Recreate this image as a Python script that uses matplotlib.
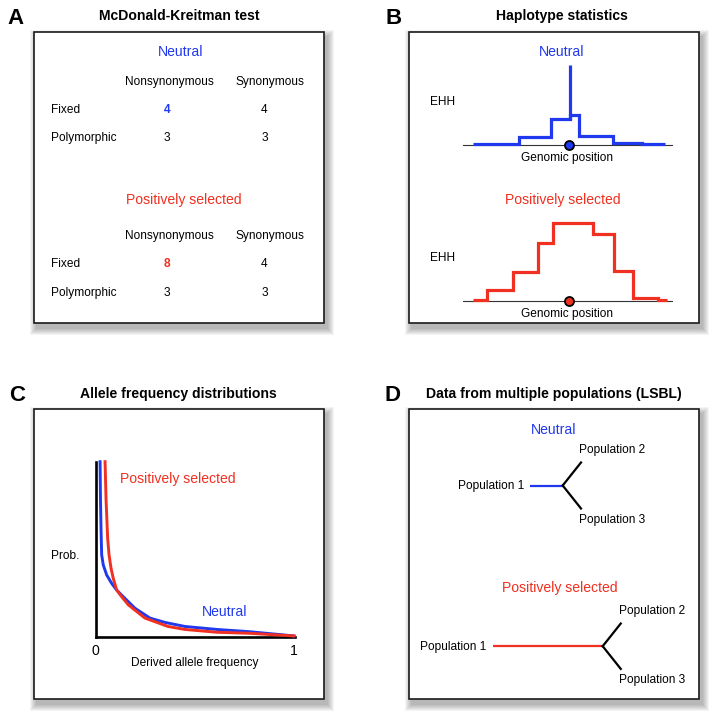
import numpy as np
import matplotlib
matplotlib.use("Agg")
import matplotlib.pyplot as plt
from matplotlib.patches import Rectangle

plt.rcParams['font.family'] = ['Liberation Sans', 'DejaVu Sans']

BLUE = "#2038ee"
RED = "#f03020"
W, H = 714, 717

# A: McDonald-Kreitman table
mk_cols = ["Nonsynonymous", "Synonymous"]
mk_rows = ["Fixed", "Polymorphic"]
mk_neutral = [[4, 4], [3, 3]]
mk_selected = [[8, 4], [3, 3]]

# B: EHH step profiles, position (kb) around the core site
ehh_neutral_edges = [-9.6, -5.0, -1.8, 0.1, 1.0, 4.4, 7.3, 9.6]
ehh_neutral = [0.01, 0.10, 0.33, 0.375, 0.11, 0.02, 0.01]
ehh_neutral_peak = 1.0
ehh_sel_edges = [-9.6, -8.2, -5.6, -3.1, -1.6, 2.4, 4.5, 6.4, 8.9, 9.8]
ehh_sel = [0.01, 0.134, 0.36, 0.72, 0.975, 0.84, 0.37, 0.03, 0.01]

# C: allele frequency spectra
sfs_neutral_x = [0.022, 0.024, 0.027, 0.030, 0.038, 0.055, 0.080, 0.105, 0.138,
                 0.197, 0.272, 0.348, 0.448, 0.609, 0.774, 0.995]
sfs_neutral_y = [1.0, 0.782, 0.600, 0.468, 0.411, 0.354, 0.306, 0.268, 0.230,
                 0.164, 0.108, 0.083, 0.060, 0.043, 0.030, 0.006]
sfs_sel_x = [0.047, 0.052, 0.060, 0.067, 0.077, 0.088, 0.105, 0.130, 0.164,
             0.247, 0.363, 0.448, 0.609, 0.774, 0.995]
sfs_sel_y = [1.0, 0.782, 0.563, 0.468, 0.392, 0.335, 0.268, 0.230, 0.183,
             0.108, 0.060, 0.043, 0.027, 0.021, 0.006]

# D: LSBL branch lengths (pop1, pop2, pop3)
lsbl_pops = ["Population 1", "Population 2", "Population 3"]
lsbl_neutral = [32.4, 29.4, 29.4]
lsbl_selected = [109.7, 29.0, 29.0]

fig = plt.figure(figsize=(W / 100, H / 100), dpi=100)
bg = fig.add_axes([0, 0, 1, 1])
bg.set_xlim(0, W)
bg.set_ylim(H, 0)
bg.axis('off')


def txt(x, y, s, size=8.6, ha='center', color='black', weight='normal'):
    # y is the middle of the capitals
    bg.text(x, y + 0.358 * size * 100 / 72, s, ha=ha, va='baseline',
            fontsize=size, color=color, fontweight=weight)


def box(x0, y0, x1, y1):
    for k in range(1, 8):
        bg.add_patch(Rectangle((x0 + 3 - k, y0 + 5 - k), (x1 - x0) + 2 * k, (y1 - y0) + 2 * k,
                               facecolor='black', alpha=0.045, edgecolor='none'))
    bg.add_patch(Rectangle((x0, y0), x1 - x0, y1 - y0, facecolor='white',
                           edgecolor='#1a1a1a', lw=1.2))


def px_axes(x0, y0, x1, y1):
    ax = fig.add_axes([x0 / W, 1 - y1 / H, (x1 - x0) / W, (y1 - y0) / H])
    ax.set_facecolor('none')
    return ax


box(34, 32.3, 324.3, 322.7)
box(408.7, 32.3, 699.3, 322.7)
box(34, 409.3, 324.3, 699)
box(408.7, 409.3, 699.3, 699)

# letters and titles
for lx, ly, letter in [(15.7, 16, "A"), (393.8, 16.5, "B"), (17.5, 393, "C"), (392, 393, "D")]:
    txt(lx, ly, letter, size=16, weight='bold')
txt(179.2, 15.3, "McDonald-Kreitman test", size=10.1, weight='bold')
txt(561.5, 15.3, "Haplotype statistics", size=10.1, weight='bold')
txt(178.8, 392.5, "Allele frequency distributions", size=10.1, weight='bold')
txt(554.2, 392.5, "Data from multiple populations (LSBL)", size=10.1, weight='bold')

# ---- A ----
for top, label, color, counts in [(50.8, "Neutral", BLUE, mk_neutral),
                                  (198.8, "Positively selected", RED, mk_selected)]:
    txt(181 if label == "Neutral" else 183.8, top, label, size=10.1, color=color)
    hy = top + 29.7 if label == "Neutral" else top + 36.2
    txt(169.2, hy, mk_cols[0])
    txt(269.7, hy, mk_cols[1])
    for i, row in enumerate(mk_rows):
        ry = hy + 28.2 + i * 28.3
        txt(50.8, ry, row, ha='left')
        for j, v in enumerate(counts[i]):
            hl = (i == 0 and j == 0)
            txt([167.2, 264.5][j], ry, str(v), color=color if hl else 'black',
                weight='bold' if hl else 'normal')

# ---- B ----
for base, lbl, color, edges, vals in [(145, "Neutral", BLUE, ehh_neutral_edges, ehh_neutral),
                                      (300.7, "Positively selected", RED, ehh_sel_edges, ehh_sel)]:
    ax = px_axes(463, base - 86, 673, base + 6)
    ax.set_xlim(-10.6, 10.4)
    ax.set_ylim(-6 / 80, 86 / 80)
    ax.axis('off')
    ax.axhline(0, color='#333333', lw=0.8, zorder=1)
    ax.stairs(vals, edges, baseline=None, color=color, lw=2.3, zorder=2, clip_on=False)
    if lbl == "Neutral":
        ax.vlines(edges[3], vals[2], ehh_neutral_peak, color=color, lw=2.3, zorder=2)
    ax.plot(0, 0, 'o', mfc=color, mec='black', ms=6.5, mew=1.3, zorder=3, clip_on=False)
    txt(430, base - 44.2, "EHH", ha='left')
    txt(566.7, base + 11.8, "Genomic position")
txt(561.3, 51.2, "Neutral", size=10.1, color=BLUE)
txt(562.5, 198.8, "Positively selected", size=10.1, color=RED)

# ---- C ----
axc = px_axes(95.7, 461.7, 295, 637)
axc.set_xlim(0, 1)
axc.set_ylim(0, 1)
for s in ['top', 'right']:
    axc.spines[s].set_visible(False)
for s in ['left', 'bottom']:
    axc.spines[s].set_linewidth(1.9)
    axc.spines[s].set_color('black')
axc.set_xticks([])
axc.set_yticks([])
axc.plot(sfs_neutral_x, sfs_neutral_y, color=BLUE, lw=2.1, zorder=4, clip_on=False,
         solid_joinstyle='round')
axc.plot(sfs_sel_x, sfs_sel_y, color=RED, lw=2.1, zorder=5, clip_on=False,
         solid_joinstyle='round')
txt(51, 554.8, "Prob.", ha='left')
txt(178.3, 478, "Positively selected", size=10.1, color=RED)
txt(224.2, 611.3, "Neutral", size=10.1, color=BLUE)
txt(95, 650.2, "0", size=10.1)
txt(294, 650.2, "1", size=10.1)
txt(195, 661.8, "Derived allele frequency")

# ---- D ----
ang = np.radians(51.5)
for node, lengths, color, lbl, ly in [((562.7, 485.5), lsbl_neutral, BLUE, "Neutral", 428.7),
                                      ((602.7, 646.2), lsbl_selected, RED, "Positively selected", 587.2)]:
    nx, ny = node
    bg.plot([nx - lengths[0], nx], [ny, ny], color=color, lw=1.6, solid_capstyle='butt')
    bg.plot([nx, nx + lengths[1] * np.cos(ang)], [ny, ny - lengths[1] * np.sin(ang)],
            color='black', lw=1.6)
    bg.plot([nx, nx + lengths[2] * np.cos(ang)], [ny, ny + lengths[2] * np.sin(ang)],
            color='black', lw=1.6)
    txt(nx - lengths[0] - 6.5, ny - 0.8, lsbl_pops[0], ha='right')
    txt(nx + 16, ny - 36.5, lsbl_pops[1], ha='left')
    txt(nx + 16, ny + 32.8, lsbl_pops[2], ha='left')
    txt(553.8 if lbl == "Neutral" else 559.8, ly, lbl, size=10.1, color=color)

fig.savefig("out.png", dpi=100)
